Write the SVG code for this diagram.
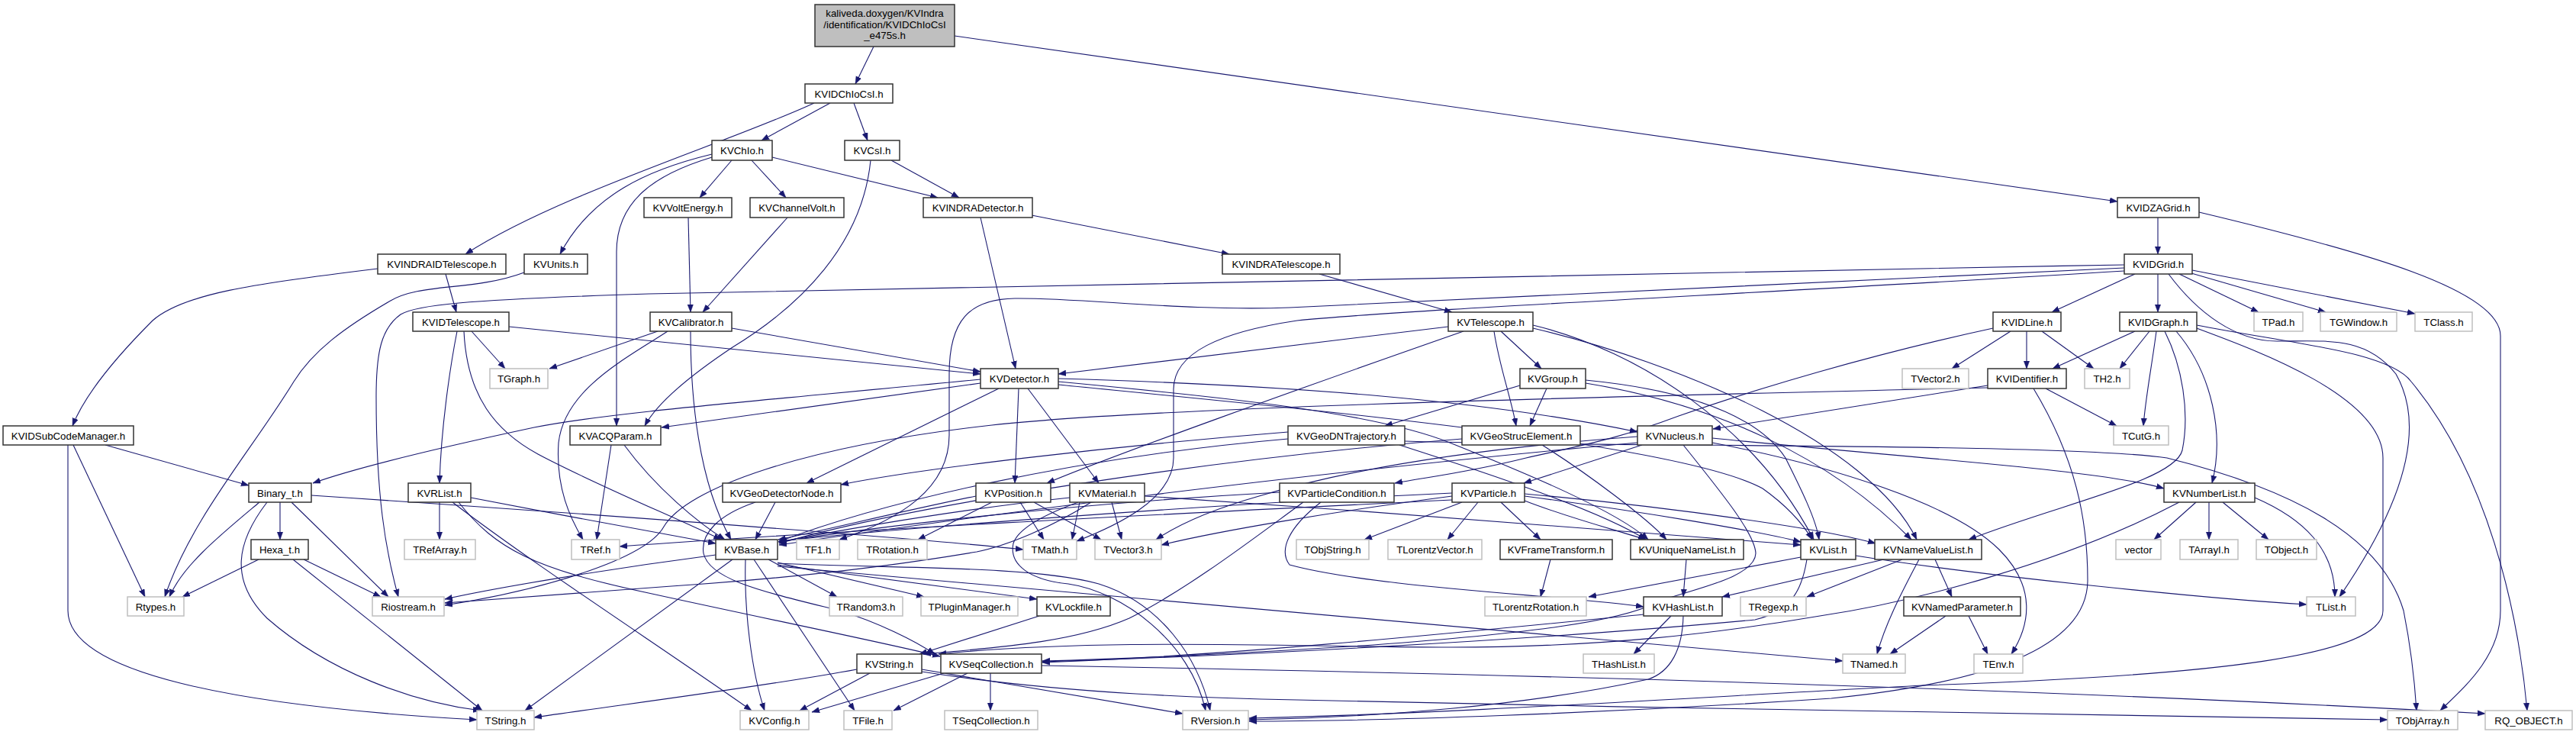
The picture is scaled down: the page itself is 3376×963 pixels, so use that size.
<svg xmlns="http://www.w3.org/2000/svg" width="3376" height="963" viewBox="0 0 3376 963">
<defs>
<style>
.e{fill:none;stroke:#191970;stroke-width:1.1;marker-end:url(#ah)}
.n rect{fill:#fff;stroke:#333;stroke-width:1.5}
.x rect{fill:#fff;stroke:#bfbfbf;stroke-width:1.5}
.r rect{fill:#bfbfbf;stroke:#333;stroke-width:1.5}
text{font-family:"Liberation Sans",Arial,sans-serif;font-size:13.3px;fill:#000;text-anchor:middle}
</style>
<marker id="ah" markerWidth="11" markerHeight="9" refX="10" refY="4" orient="auto" markerUnits="userSpaceOnUse">
<path d="M0,0.3 L10,4 L0,7.7 z" fill="#191970" stroke="#191970" stroke-width="0.5"/>
</marker>
</defs>
<rect width="3376" height="963" fill="#fff"/>
<g id="edges">
<path class="e" d="M1145,61 L1121,110"/>
<path class="e" d="M1251,47 L2775,264"/>
<path class="e" d="M1088,135 L998,184"/>
<path class="e" d="M1119,135 L1137,184"/>
<path class="e" d="M1067,135 C960,185 730,255 610,333"/>
<path class="e" d="M959,210 L917,259"/>
<path class="e" d="M985,210 L1030,259"/>
<path class="e" d="M1012,206 L1229,259"/>
<path class="e" d="M933,202 C850,222 775,255 734,333"/>
<path class="e" d="M933,206 C860,228 808,262 808,330 L808,558"/>
<path class="e" d="M1168,210 L1257,259"/>
<path class="e" d="M1141,210 C1130,320 1050,400 960,455 C900,495 860,530 845,558"/>
<path class="e" d="M902,285 L905,409"/>
<path class="e" d="M1032,285 L921,409"/>
<path class="e" d="M1285,285 L1331,483"/>
<path class="e" d="M1352,282 L1611,333"/>
<path class="e" d="M1729,359 L1903,409"/>
<path class="e" d="M584,359 L598,409"/>
<path class="e" d="M495,352 C330,372 240,385 200,420 C150,470 110,520 95,558"/>
<path class="e" d="M687,357 C620,382 550,370 510,395 C450,430 410,460 385,500 C330,590 250,680 216,782"/>
<path class="e" d="M618,434 L662,483"/>
<path class="e" d="M599,434 C590,480 578,560 576,633"/>
<path class="e" d="M608,434 C612,520 650,565 705,595 C780,635 890,680 945,707"/>
<path class="e" d="M667,428 L1285,490"/>
<path class="e" d="M959,430 L1285,487"/>
<path class="e" d="M862,434 L720,483"/>
<path class="e" d="M875,434 C820,470 740,510 732,580 C728,640 748,680 764,707"/>
<path class="e" d="M905,434 C905,520 915,630 958,707"/>
<path class="e" d="M801,583 L782,707"/>
<path class="e" d="M818,583 C860,640 915,685 950,707"/>
<path class="e" d="M1285,497 C1000,525 800,540 700,560 C560,590 460,615 410,633"/>
<path class="e" d="M1285,502 L867,560"/>
<path class="e" d="M1309,509 L1057,633"/>
<path class="e" d="M1335,509 L1330,633"/>
<path class="e" d="M1347,509 L1440,633"/>
<path class="e" d="M1387,496 C1700,505 1950,525 2146,566"/>
<path class="e" d="M1387,500 C1600,520 1800,540 1900,580 C2000,620 2120,670 2160,707"/>
<path class="e" d="M1387,504 C1700,535 2200,580 2310,640 C2345,665 2365,690 2375,707"/>
<path class="e" d="M1898,428 L1387,490"/>
<path class="e" d="M1918,434 C1700,510 1450,600 1372,633"/>
<path class="e" d="M1958,434 C1965,480 1980,520 1987,558"/>
<path class="e" d="M1967,434 L2020,483"/>
<path class="e" d="M2009,426 C2150,460 2300,560 2377,707"/>
<path class="e" d="M2009,430 C2200,475 2450,580 2512,707"/>
<path class="e" d="M2784,347 C2000,360 1200,375 850,385 C600,393 545,400 525,412 C500,430 493,460 493,520 C493,650 505,720 522,782"/>
<path class="e" d="M2784,351 C2300,372 1850,398 1690,403 C1550,408 1420,390 1330,391 C1270,392 1244,420 1244,490 L1244,570 C1244,640 1180,680 1100,707"/>
<path class="e" d="M2784,355 C2300,385 1850,405 1700,420 C1600,435 1538,462 1538,510 L1538,600 C1538,655 1460,690 1411,709"/>
<path class="e" d="M2828,285 L2828,333"/>
<path class="e" d="M2882,278 C3100,330 3277,380 3277,440 L3277,800 C3277,860 3230,900 3198,931"/>
<path class="e" d="M2798,359 L2689,409"/>
<path class="e" d="M2828,359 L2828,409"/>
<path class="e" d="M2856,359 L2960,409"/>
<path class="e" d="M2872,358 L3048,409"/>
<path class="e" d="M2873,354 L3165,411"/>
<path class="e" d="M2842,359 C2880,410 2930,447 2984,447 C3050,447 3100,440 3140,490 C3180,560 3150,660 3066,782"/>
<path class="e" d="M2635,434 L2558,483"/>
<path class="e" d="M2656,434 L2656,483"/>
<path class="e" d="M2676,434 L2744,483"/>
<path class="e" d="M2612,430 C2450,465 2300,510 2200,545 C2120,575 2080,582 2000,600 C1920,620 1870,625 1828,633"/>
<path class="e" d="M2798,434 L2690,483"/>
<path class="e" d="M2817,434 L2778,483"/>
<path class="e" d="M2826,434 C2820,480 2812,520 2809,558"/>
<path class="e" d="M2837,434 C2860,480 2870,540 2860,590 C2850,630 2700,660 2580,707"/>
<path class="e" d="M2852,434 C2900,490 2915,570 2899,633"/>
<path class="e" d="M2879,430 C2960,460 3123,520 3123,600 L3123,800 C3123,860 2900,885 2520,898 C2200,915 1900,935 1637,941"/>
<path class="e" d="M2879,426 C3000,450 3130,460 3160,500 C3260,620 3300,800 3312,931"/>
<path class="e" d="M2681,509 L2774,558"/>
<path class="e" d="M2605,505 L2245,562"/>
<path class="e" d="M2605,508 C2000,522 1500,535 1300,557 C1050,585 900,640 870,690 C845,735 700,775 583,793"/>
<path class="e" d="M2665,509 C2720,600 2736,680 2736,760 C2736,850 2600,895 2400,915 C2100,935 1800,945 1637,945"/>
<path class="e" d="M2027,509 L2005,558"/>
<path class="e" d="M1992,505 L1815,558"/>
<path class="e" d="M2078,498 C2200,510 2300,540 2340,600 C2360,640 2380,680 2384,707"/>
<path class="e" d="M2078,502 C2250,530 2400,600 2505,707"/>
<path class="e" d="M1688,575 C1400,600 1150,660 1020,710"/>
<path class="e" d="M1688,566 C1450,585 1200,615 1102,635"/>
<path class="e" d="M1834,583 C1950,620 2100,670 2157,707"/>
<path class="e" d="M1841,578 C2100,586 2700,580 2840,600 C3000,640 3120,700 3150,800 C3160,850 3165,900 3167,931"/>
<path class="e" d="M1916,575 C1600,600 1200,660 1021,712"/>
<path class="e" d="M2021,583 C2080,620 2160,680 2184,707"/>
<path class="e" d="M2152,583 L1997,633"/>
<path class="e" d="M2146,580 C1700,620 1250,680 1021,714"/>
<path class="e" d="M2244,574 C2500,600 2750,615 2836,640"/>
<path class="e" d="M2244,580 C2400,610 2560,660 2620,720 C2670,770 2660,820 2636,857"/>
<path class="e" d="M2206,583 C2260,650 2300,700 2301,725 C2300,760 2200,775 2170,790 C2120,815 2000,830 1800,845 C1600,858 1450,864 1366,866"/>
<path class="e" d="M2146,572 C1900,590 1750,620 1650,650 C1580,670 1540,690 1515,707"/>
<path class="e" d="M1916,658 L1788,707"/>
<path class="e" d="M1937,658 L1897,707"/>
<path class="e" d="M1967,658 L2019,707"/>
<path class="e" d="M1998,656 C2060,680 2120,695 2157,707"/>
<path class="e" d="M1998,650 C2150,670 2300,695 2360,710"/>
<path class="e" d="M1998,647 C2200,665 2400,695 2458,712"/>
<path class="e" d="M1903,650 C1750,670 1600,695 1522,714"/>
<path class="e" d="M1903,646 C1600,660 1200,690 1021,709"/>
<path class="e" d="M1903,655 C1500,675 1100,695 812,716"/>
<path class="e" d="M1677,645 C1400,660 1150,690 1021,710"/>
<path class="e" d="M1731,658 C1690,690 1675,720 1690,740 C1800,770 2050,780 2154,795"/>
<path class="e" d="M1708,658 C1650,700 1560,770 1480,810 C1400,845 1280,850 1210,857"/>
<path class="e" d="M1457,658 L1470,707"/>
<path class="e" d="M1402,652 C1250,668 1100,695 1021,710"/>
<path class="e" d="M1415,658 L1405,707"/>
<path class="e" d="M1430,658 C1380,690 1320,715 1280,723 C1150,745 1000,760 880,768 C750,778 650,785 583,790"/>
<path class="e" d="M1413,658 C1380,670 1335,690 1328,712 C1322,740 1350,760 1400,765 C1470,775 1560,840 1580,931"/>
<path class="e" d="M1500,650 C1800,670 2200,700 2360,714"/>
<path class="e" d="M1300,658 L1203,707"/>
<path class="e" d="M1337,658 L1368,707"/>
<path class="e" d="M1355,658 L1443,707"/>
<path class="e" d="M1279,650 C1180,670 1080,695 1020,707"/>
<path class="e" d="M1016,658 L990,707"/>
<path class="e" d="M990,658 C940,675 918,700 922,725 C930,760 1000,775 1100,800 C1150,815 1200,840 1225,857"/>
<path class="e" d="M576,658 L576,707"/>
<path class="e" d="M617,652 C720,672 860,698 938,712"/>
<path class="e" d="M593,658 C700,740 870,850 985,931"/>
<path class="e" d="M601,658 C650,720 700,745 850,777 C1000,810 1150,840 1232,860"/>
<path class="e" d="M367,658 L367,707"/>
<path class="e" d="M340,658 C290,700 240,740 222,782"/>
<path class="e" d="M350,658 C310,710 300,760 350,810 C430,880 540,920 630,931"/>
<path class="e" d="M382,658 L509,782"/>
<path class="e" d="M408,649 C800,675 1200,705 1341,720"/>
<path class="e" d="M339,733 L239,782"/>
<path class="e" d="M398,733 L499,782"/>
<path class="e" d="M384,733 L632,931"/>
<path class="e" d="M138,583 L326,636"/>
<path class="e" d="M96,583 L190,782"/>
<path class="e" d="M89,583 L89,800 C89,880 300,925 625,943"/>
<path class="e" d="M960,733 L688,931"/>
<path class="e" d="M977,733 C975,800 985,880 1002,931"/>
<path class="e" d="M988,733 L1120,931"/>
<path class="e" d="M1007,733 L1097,782"/>
<path class="e" d="M1019,737 L1211,782"/>
<path class="e" d="M1019,740 L1359,785"/>
<path class="e" d="M1019,742 L2415,866"/>
<path class="e" d="M1019,738 C1150,745 1350,740 1440,765 C1520,790 1570,860 1586,931"/>
<path class="e" d="M938,727 C800,745 650,770 583,785"/>
<path class="e" d="M1123,877 C1000,900 800,925 700,940"/>
<path class="e" d="M1140,882 L1048,931"/>
<path class="e" d="M1208,877 L1550,935"/>
<path class="e" d="M1208,880 C1400,910 1600,915 1700,917 C2200,928 2800,940 3129,943"/>
<path class="e" d="M1298,882 L1298,931"/>
<path class="e" d="M1237,882 L1064,933"/>
<path class="e" d="M1268,882 L1171,931"/>
<path class="e" d="M1365,872 C1700,878 2500,893 3257,935"/>
<path class="e" d="M1362,807 L1205,857"/>
<path class="e" d="M2432,728 C2600,755 2900,785 3023,792"/>
<path class="e" d="M2368,733 C2362,770 2350,800 2300,812 C2000,840 1600,860 1366,867"/>
<path class="e" d="M2360,730 L2082,782"/>
<path class="e" d="M2469,733 L2257,782"/>
<path class="e" d="M2493,733 L2368,782"/>
<path class="e" d="M2536,733 L2558,782"/>
<path class="e" d="M2515,733 C2490,780 2470,820 2460,857"/>
<path class="e" d="M2210,733 L2206,782"/>
<path class="e" d="M2032,733 L2019,782"/>
<path class="e" d="M2190,807 L2141,857"/>
<path class="e" d="M2154,805 C1900,830 1600,860 1366,868"/>
<path class="e" d="M2206,807 C2205,850 2190,880 2160,890 C2000,925 1800,940 1637,943"/>
<path class="e" d="M2580,807 L2605,857"/>
<path class="e" d="M2550,807 L2477,857"/>
<path class="e" d="M2878,658 L2823,707"/>
<path class="e" d="M2895,658 L2895,707"/>
<path class="e" d="M2913,658 L2973,707"/>
<path class="e" d="M2955,652 C3020,680 3060,720 3060,782"/>
<path class="e" d="M2856,658 C2700,740 2500,790 2385,807 C2250,830 2100,848 1900,848 C1700,848 1450,835 1230,857"/>
</g>
<g id="n_top" class="r"><rect x="1068" y="6" width="183" height="55"/><text x="1159.5" y="22">kaliveda.doxygen/KVIndra</text><text x="1159.5" y="37">/identification/KVIDChIoCsI</text><text x="1159.5" y="51">_e475s.h</text></g>
<g id="n_KVIDChIoCsI" class="n"><rect x="1055" y="110" width="115" height="25"/><text x="1112.5" y="127.5">KVIDChIoCsI.h</text></g>
<g id="n_KVChIo" class="n"><rect x="933" y="184" width="79" height="26"/><text x="972.5" y="202">KVChIo.h</text></g>
<g id="n_KVCsI" class="n"><rect x="1107" y="184" width="72" height="26"/><text x="1143" y="202">KVCsI.h</text></g>
<g id="n_KVVoltEnergy" class="n"><rect x="844" y="259" width="115" height="26"/><text x="901.5" y="277">KVVoltEnergy.h</text></g>
<g id="n_KVChannelVolt" class="n"><rect x="983" y="259" width="123" height="26"/><text x="1044.5" y="277">KVChannelVolt.h</text></g>
<g id="n_KVINDRADetector" class="n"><rect x="1210" y="259" width="143" height="26"/><text x="1281.5" y="277">KVINDRADetector.h</text></g>
<g id="n_KVIDZAGrid" class="n"><rect x="2775" y="259" width="107" height="26"/><text x="2828.5" y="277">KVIDZAGrid.h</text></g>
<g id="n_KVINDRAIDTelescope" class="n"><rect x="495" y="333" width="168" height="26"/><text x="579" y="351">KVINDRAIDTelescope.h</text></g>
<g id="n_KVUnits" class="n"><rect x="687" y="333" width="83" height="26"/><text x="728.5" y="351">KVUnits.h</text></g>
<g id="n_KVINDRATelescope" class="n"><rect x="1602" y="333" width="154" height="26"/><text x="1679" y="351">KVINDRATelescope.h</text></g>
<g id="n_KVIDGrid" class="n"><rect x="2784" y="333" width="89" height="26"/><text x="2828.5" y="351">KVIDGrid.h</text></g>
<g id="n_KVIDTelescope" class="n"><rect x="541" y="409" width="126" height="25"/><text x="604" y="426.5">KVIDTelescope.h</text></g>
<g id="n_KVCalibrator" class="n"><rect x="852" y="409" width="107" height="25"/><text x="905.5" y="426.5">KVCalibrator.h</text></g>
<g id="n_KVTelescope" class="n"><rect x="1898" y="409" width="111" height="25"/><text x="1953.5" y="426.5">KVTelescope.h</text></g>
<g id="n_KVIDLine" class="n"><rect x="2612" y="409" width="89" height="25"/><text x="2656.5" y="426.5">KVIDLine.h</text></g>
<g id="n_KVIDGraph" class="n"><rect x="2778" y="409" width="101" height="25"/><text x="2828.5" y="426.5">KVIDGraph.h</text></g>
<g id="n_TPad" class="x"><rect x="2954" y="409" width="64" height="25"/><text x="2986" y="426.5">TPad.h</text></g>
<g id="n_TGWindow" class="x"><rect x="3041" y="409" width="100" height="25"/><text x="3091" y="426.5">TGWindow.h</text></g>
<g id="n_TClass" class="x"><rect x="3165" y="409" width="75" height="25"/><text x="3202.5" y="426.5">TClass.h</text></g>
<g id="n_TGraph" class="x"><rect x="642" y="483" width="76" height="26"/><text x="680" y="501">TGraph.h</text></g>
<g id="n_KVDetector" class="n"><rect x="1285" y="483" width="102" height="26"/><text x="1336" y="501">KVDetector.h</text></g>
<g id="n_KVGroup" class="n"><rect x="1992" y="483" width="86" height="26"/><text x="2035" y="501">KVGroup.h</text></g>
<g id="n_TVector2" class="x"><rect x="2493" y="483" width="87" height="26"/><text x="2536.5" y="501">TVector2.h</text></g>
<g id="n_KVIDentifier" class="n"><rect x="2605" y="483" width="103" height="26"/><text x="2656.5" y="501">KVIDentifier.h</text></g>
<g id="n_TH2" class="x"><rect x="2732" y="483" width="59" height="26"/><text x="2761.5" y="501">TH2.h</text></g>
<g id="n_KVIDSubCodeManager" class="n"><rect x="4" y="558" width="171" height="25"/><text x="89.5" y="575.5">KVIDSubCodeManager.h</text></g>
<g id="n_KVACQParam" class="n"><rect x="747" y="558" width="119" height="25"/><text x="806.5" y="575.5">KVACQParam.h</text></g>
<g id="n_KVGeoDNTrajectory" class="n"><rect x="1688" y="558" width="153" height="25"/><text x="1764.5" y="575.5">KVGeoDNTrajectory.h</text></g>
<g id="n_KVGeoStrucElement" class="n"><rect x="1916" y="558" width="155" height="25"/><text x="1993.5" y="575.5">KVGeoStrucElement.h</text></g>
<g id="n_KVNucleus" class="n"><rect x="2146" y="558" width="98" height="25"/><text x="2195" y="575.5">KVNucleus.h</text></g>
<g id="n_TCutG" class="x"><rect x="2770" y="558" width="72" height="25"/><text x="2806" y="575.5">TCutG.h</text></g>
<g id="n_Binary_t" class="n"><rect x="326" y="633" width="82" height="25"/><text x="367" y="650.5">Binary_t.h</text></g>
<g id="n_KVRList" class="n"><rect x="535" y="633" width="82" height="25"/><text x="576" y="650.5">KVRList.h</text></g>
<g id="n_KVGeoDetectorNode" class="n"><rect x="947" y="633" width="155" height="25"/><text x="1024.5" y="650.5">KVGeoDetectorNode.h</text></g>
<g id="n_KVPosition" class="n"><rect x="1279" y="633" width="98" height="25"/><text x="1328" y="650.5">KVPosition.h</text></g>
<g id="n_KVMaterial" class="n"><rect x="1402" y="633" width="98" height="25"/><text x="1451" y="650.5">KVMaterial.h</text></g>
<g id="n_KVParticleCondition" class="n"><rect x="1677" y="633" width="150" height="25"/><text x="1752" y="650.5">KVParticleCondition.h</text></g>
<g id="n_KVParticle" class="n"><rect x="1903" y="633" width="95" height="25"/><text x="1950.5" y="650.5">KVParticle.h</text></g>
<g id="n_KVNumberList" class="n"><rect x="2836" y="633" width="119" height="25"/><text x="2895.5" y="650.5">KVNumberList.h</text></g>
<g id="n_Hexa_t" class="n"><rect x="329" y="707" width="75" height="26"/><text x="366.5" y="725">Hexa_t.h</text></g>
<g id="n_TRefArray" class="x"><rect x="530" y="707" width="93" height="26"/><text x="576.5" y="725">TRefArray.h</text></g>
<g id="n_TRef" class="x"><rect x="749" y="707" width="63" height="26"/><text x="780.5" y="725">TRef.h</text></g>
<g id="n_KVBase" class="n"><rect x="938" y="707" width="81" height="26"/><text x="978.5" y="725">KVBase.h</text></g>
<g id="n_TF1" class="x"><rect x="1044" y="707" width="56" height="26"/><text x="1072" y="725">TF1.h</text></g>
<g id="n_TRotation" class="x"><rect x="1124" y="707" width="91" height="26"/><text x="1169.5" y="725">TRotation.h</text></g>
<g id="n_TMath" class="x"><rect x="1341" y="707" width="70" height="26"/><text x="1376" y="725">TMath.h</text></g>
<g id="n_TVector3" class="x"><rect x="1435" y="707" width="87" height="26"/><text x="1478.5" y="725">TVector3.h</text></g>
<g id="n_TObjString" class="x"><rect x="1699" y="707" width="95" height="26"/><text x="1746.5" y="725">TObjString.h</text></g>
<g id="n_TLorentzVector" class="x"><rect x="1819" y="707" width="123" height="26"/><text x="1880.5" y="725">TLorentzVector.h</text></g>
<g id="n_KVFrameTransform" class="n"><rect x="1966" y="707" width="147" height="26"/><text x="2039.5" y="725">KVFrameTransform.h</text></g>
<g id="n_KVUniqueNameList" class="n"><rect x="2137" y="707" width="148" height="26"/><text x="2211" y="725">KVUniqueNameList.h</text></g>
<g id="n_KVList" class="n"><rect x="2360" y="707" width="72" height="26"/><text x="2396" y="725">KVList.h</text></g>
<g id="n_KVNameValueList" class="n"><rect x="2457" y="707" width="140" height="26"/><text x="2527" y="725">KVNameValueList.h</text></g>
<g id="n_vector" class="x"><rect x="2773" y="707" width="59" height="26"/><text x="2802.5" y="725">vector</text></g>
<g id="n_TArrayI" class="x"><rect x="2857" y="707" width="76" height="26"/><text x="2895" y="725">TArrayI.h</text></g>
<g id="n_TObject" class="x"><rect x="2957" y="707" width="79" height="26"/><text x="2996.5" y="725">TObject.h</text></g>
<g id="n_Rtypes" class="x"><rect x="167" y="782" width="74" height="25"/><text x="204" y="799.5">Rtypes.h</text></g>
<g id="n_Riostream" class="x"><rect x="488" y="782" width="94" height="25"/><text x="535" y="799.5">Riostream.h</text></g>
<g id="n_TRandom3" class="x"><rect x="1087" y="782" width="96" height="25"/><text x="1135" y="799.5">TRandom3.h</text></g>
<g id="n_TPluginManager" class="x"><rect x="1207" y="782" width="127" height="25"/><text x="1270.5" y="799.5">TPluginManager.h</text></g>
<g id="n_KVLockfile" class="n"><rect x="1359" y="782" width="96" height="25"/><text x="1407" y="799.5">KVLockfile.h</text></g>
<g id="n_TLorentzRotation" class="x"><rect x="1946" y="782" width="133" height="25"/><text x="2012.5" y="799.5">TLorentzRotation.h</text></g>
<g id="n_KVHashList" class="n"><rect x="2154" y="782" width="103" height="25"/><text x="2205.5" y="799.5">KVHashList.h</text></g>
<g id="n_TRegexp" class="x"><rect x="2281" y="782" width="86" height="25"/><text x="2324" y="799.5">TRegexp.h</text></g>
<g id="n_KVNamedParameter" class="n"><rect x="2495" y="782" width="153" height="25"/><text x="2571.5" y="799.5">KVNamedParameter.h</text></g>
<g id="n_TList" class="x"><rect x="3023" y="782" width="64" height="25"/><text x="3055" y="799.5">TList.h</text></g>
<g id="n_KVString" class="n"><rect x="1123" y="857" width="85" height="25"/><text x="1165.5" y="874.5">KVString.h</text></g>
<g id="n_KVSeqCollection" class="n"><rect x="1233" y="857" width="132" height="25"/><text x="1299" y="874.5">KVSeqCollection.h</text></g>
<g id="n_THashList" class="x"><rect x="2075" y="857" width="93" height="25"/><text x="2121.5" y="874.5">THashList.h</text></g>
<g id="n_TNamed" class="x"><rect x="2415" y="857" width="82" height="25"/><text x="2456" y="874.5">TNamed.h</text></g>
<g id="n_TEnv" class="x"><rect x="2587" y="857" width="64" height="25"/><text x="2619" y="874.5">TEnv.h</text></g>
<g id="n_TString" class="x"><rect x="625" y="931" width="75" height="25"/><text x="662.5" y="948.5">TString.h</text></g>
<g id="n_KVConfig" class="x"><rect x="970" y="931" width="90" height="25"/><text x="1015" y="948.5">KVConfig.h</text></g>
<g id="n_TFile" class="x"><rect x="1106" y="931" width="63" height="25"/><text x="1137.5" y="948.5">TFile.h</text></g>
<g id="n_TSeqCollection" class="x"><rect x="1238" y="931" width="122" height="25"/><text x="1299" y="948.5">TSeqCollection.h</text></g>
<g id="n_RVersion" class="x"><rect x="1550" y="931" width="86" height="25"/><text x="1593" y="948.5">RVersion.h</text></g>
<g id="n_TObjArray" class="x"><rect x="3129" y="931" width="92" height="25"/><text x="3175" y="948.5">TObjArray.h</text></g>
<g id="n_RQ_OBJECT" class="x"><rect x="3257" y="931" width="114" height="25"/><text x="3314" y="948.5">RQ_OBJECT.h</text></g>
</svg>
